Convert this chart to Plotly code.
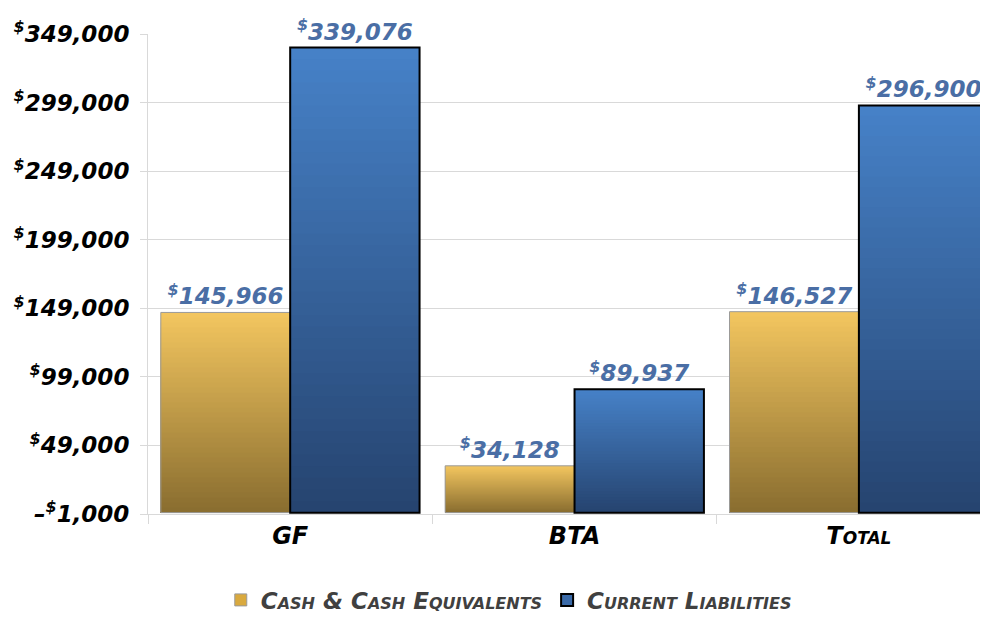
import plotly.graph_objects as go

categories = ["GF", "BTA", "Total"]
cash = [145966, 34128, 146527]
liabilities = [339076, 89937, 296900]
series_names = ["Cash & Cash Equivalents", "Current Liabilities"]
tick_vals = [-1000, 49000, 99000, 149000, 199000, 249000, 299000, 349000]


def money_tick(v):
    return ("–" if v < 0 else "") + "<sup>$</sup>" + f"{abs(v):,}"


tick_text = [money_tick(v) for v in tick_vals]

FONT = "DejaVu Sans"
N = 40

styles = [
    dict(values=cash, top=(242, 197, 95), bottom=(138, 110, 48), offset=-0.455,
         line_color="#9a9a9a", line_width=1, legend_color="#d9a93e"),
    dict(values=liabilities, top=(70, 129, 199), bottom=(38, 68, 112), offset=0.0,
         line_color="#000000", line_width=2, legend_color="#3a6aa8"),
]
W = 0.455


def lerp(a, b, t):
    return "rgb(%d,%d,%d)" % tuple(round(a[i] + (b[i] - a[i]) * t) for i in range(3))


fig = go.Figure()

for si, st in enumerate(styles):
    vals = st["values"]
    # gradient: draw progressively shorter bars, each darker
    for k in range(N):
        frac = (N - k) / N
        fig.add_trace(go.Bar(
            x=categories, y=[v * frac for v in vals],
            width=W, offset=st["offset"],
            marker=dict(color=lerp(st["top"], st["bottom"], k / (N - 1)), line=dict(width=0)),
            showlegend=False, hoverinfo="skip",
        ))
    # outline + labels
    fig.add_trace(go.Bar(
        x=categories, y=vals, width=W, offset=st["offset"],
        marker=dict(color="rgba(0,0,0,0)", line=dict(color=st["line_color"], width=st["line_width"])),
        texttemplate="<sup>$</sup>%{y:,}", textposition="outside",
        textfont=dict(family=FONT, size=23, color="#4a6ea5", weight="bold", style="italic"),
        cliponaxis=False, showlegend=False, name=series_names[si],
    ))

for si, st in enumerate(styles):
    fig.add_trace(go.Bar(
        x=categories, y=[None] * len(categories), name=series_names[si],
        marker=dict(color=st["legend_color"], line=dict(color=st["line_color"], width=st["line_width"])),
    ))

# page has an 8px body margin, so the figure is sized to fill the rest of the window
fig.update_layout(
    width=980, height=609,
    margin=dict(l=140, r=0, t=26, b=103, autoexpand=False),
    paper_bgcolor="white", plot_bgcolor="white",
    barmode="overlay",
    uniformtext=dict(minsize=23, mode="show"),
    legend=dict(orientation="h", xref="container", yref="container",
                x=0.511, y=0.028, xanchor="center", yanchor="middle",
                font=dict(family=FONT, size=23, color="#404040", weight="bold",
                          style="italic", variant="small-caps"),
                traceorder="normal"),
    xaxis=dict(type="category", range=[-0.5, 2.454], showline=True, linecolor="#d9d9d9",
               linewidth=1, ticks="outside", tickson="boundaries", ticklen=9,
               tickcolor="#d9d9d9", showgrid=False, automargin=False,
               tickfont=dict(family=FONT, size=24, color="black", weight="bold",
                             style="italic", variant="small-caps")),
    yaxis=dict(range=[-1000, 349000], tickvals=tick_vals, ticktext=tick_text,
               showgrid=True, gridcolor="#d9d9d9", gridwidth=1, zeroline=False,
               showline=True, linecolor="#d9d9d9", ticks="outside", ticklen=7,
               tickcolor="#d9d9d9", automargin=False, ticklabelstandoff=6,
               tickfont=dict(family=FONT, size=23, color="black", weight="bold", style="italic")),
)

fig.write_html("out.html")
